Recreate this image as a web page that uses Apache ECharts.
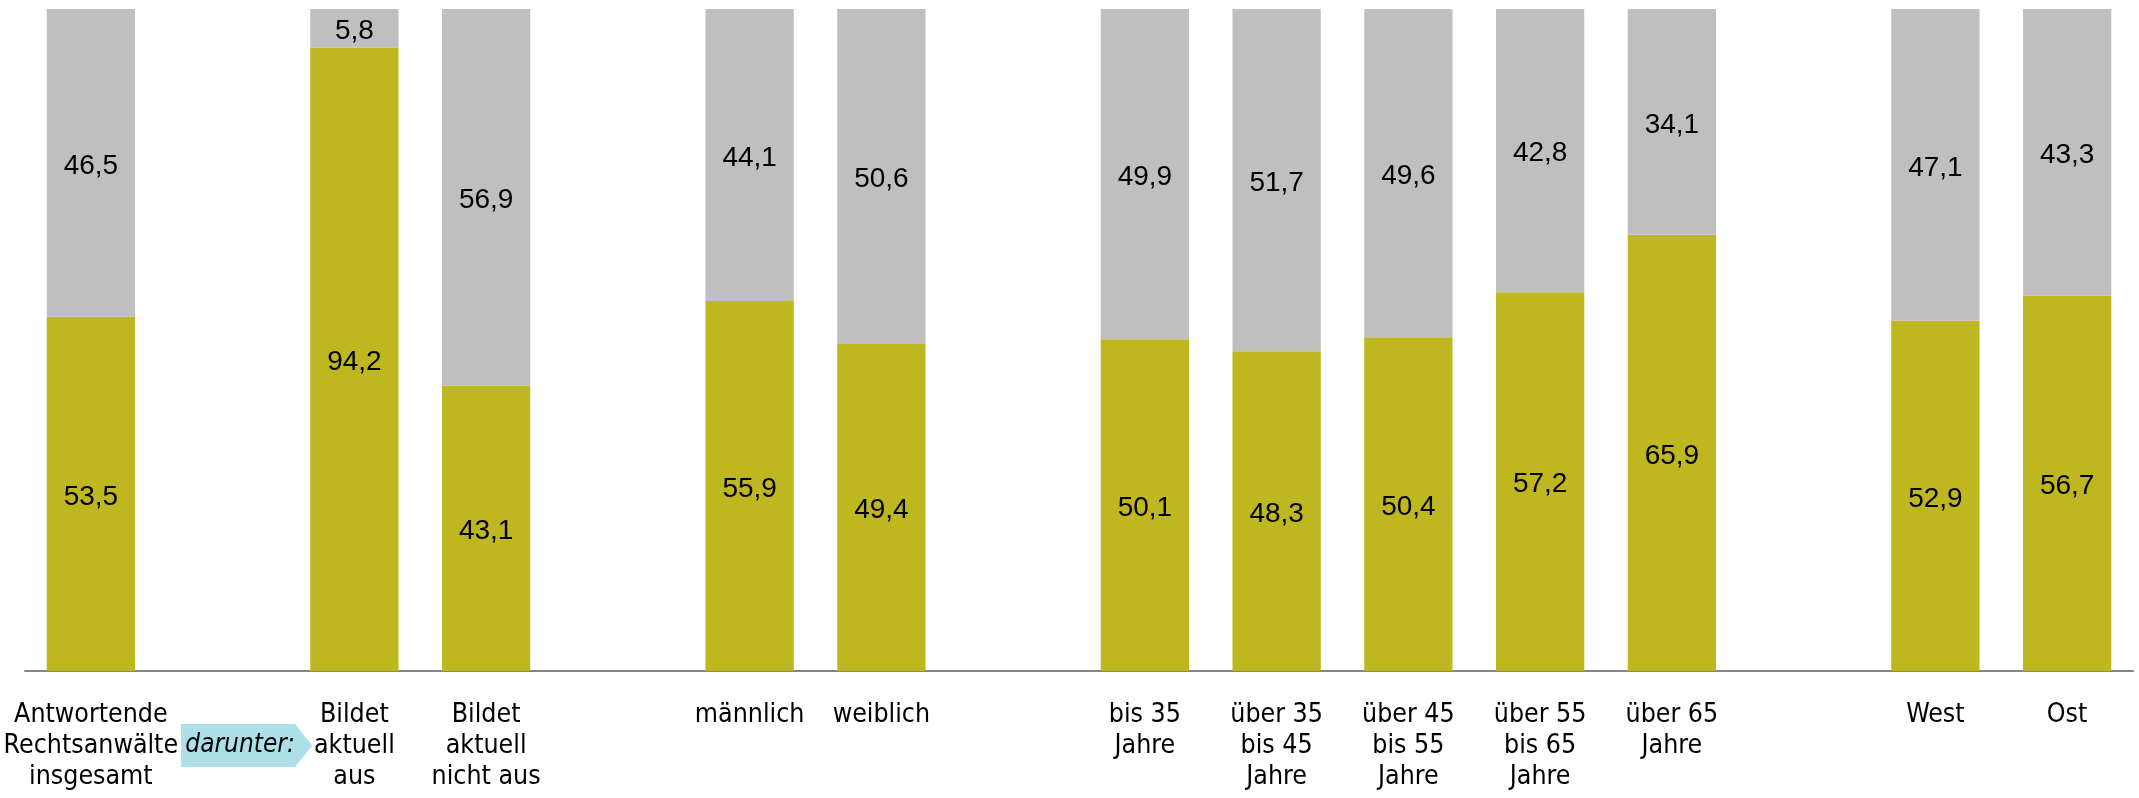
<!DOCTYPE html>
<html>
<head>
<meta charset="utf-8">
<script src="https://cdn.jsdelivr.net/npm/echarts@6/dist/echarts.min.js"></script>
<style>
html,body{margin:0;padding:0;background:#fff;}
#chart{width:2139px;height:798px;}
</style>
</head>
<body>
<div id="chart"></div>
<script>
// Categories ('' = empty spacer slot)
var categories = [
  'Antwortende\nRechtsanwälte\ninsgesamt', '', 'Bildet\naktuell\naus', 'Bildet\naktuell\nnicht aus', '',
  'männlich', 'weiblich', '',
  'bis 35\nJahre', 'über 35\nbis 45\nJahre', 'über 45\nbis 55\nJahre', 'über 55\nbis 65\nJahre', 'über 65\nJahre', '',
  'West', 'Ost'
];
// Share "yes" (olive) and "no" (grey), in percent
var yesValues = [53.5, null, 94.2, 43.1, null, 55.9, 49.4, null, 50.1, 48.3, 50.4, 57.2, 65.9, null, 52.9, 56.7];
var noValues  = [46.5, null, 5.8, 56.9, null, 44.1, 50.6, null, 49.9, 51.7, 49.6, 42.8, 34.1, null, 47.1, 43.3];
var separatorText = 'darunter:';
var separatorIndex = 1;

var fmt = function (p) { return p.value == null ? '' : p.value.toFixed(1).replace('.', ','); };

var chart = echarts.init(document.getElementById('chart'), null, {renderer: 'canvas'});
var valueLabel = {
  show: true, position: 'inside', color: '#000', offset: [0, 3],
  fontFamily: 'Liberation Sans, Arial, sans-serif', fontSize: 28,
  formatter: fmt
};
var condensed = '"Liberation Sans Narrow", "DejaVu Sans Condensed", sans-serif';
chart.setOption({
  animation: false,
  backgroundColor: '#fff',
  grid: {left: 25, right: 6, top: 9, bottom: 127, containLabel: false, outerBoundsMode: 'none'},
  xAxis: {
    type: 'category', data: categories,
    axisLine: {lineStyle: {color: '#858585', width: 2}},
    axisTick: {show: false},
    axisLabel: {
      interval: 0, margin: 29, color: '#000',
      fontFamily: condensed, fontSize: 26.5, lineHeight: 31, verticalAlign: 'top',
      hideOverlap: false
    }
  },
  yAxis: {type: 'value', min: 0, max: 100, show: false, splitLine: {show: false}},
  series: [
    {type: 'bar', stack: 'a', data: yesValues, barCategoryGap: '33%',
     itemStyle: {color: '#BEB720'}, label: valueLabel},
    {type: 'bar', stack: 'a', data: noValues, barCategoryGap: '33%',
     itemStyle: {color: '#BFBFBF'}, label: valueLabel}
  ]
});

// "darunter:" arrow tag placed under the empty separator slot
var c = chart.convertToPixel({xAxisIndex: 0}, separatorIndex);
var c2 = chart.convertToPixel({xAxisIndex: 0}, separatorIndex + 1);
var w = c2 - c;
var axisY = chart.convertToPixel({yAxisIndex: 0}, 0);
var x0 = c - 0.316 * w, x1 = c + 0.55 * w, x2 = c + 0.68 * w;
var y0 = axisY + 53, y1 = axisY + 96, ym = (y0 + y1) / 2;
chart.setOption({
  graphic: [
    {type: 'polygon', shape: {points: [[x0, y0], [x1, y0], [x2, ym], [x1, y1], [x0, y1]]},
     style: {fill: '#ADDFE9'}, silent: true},
    {type: 'text', x: (x0 + x1) / 2 + 2, y: ym,
     style: {text: separatorText, fill: '#000', fontStyle: 'italic',
             fontFamily: condensed, fontSize: 26, align: 'center', verticalAlign: 'middle'}}
  ]
});
</script>
</body>
</html>
